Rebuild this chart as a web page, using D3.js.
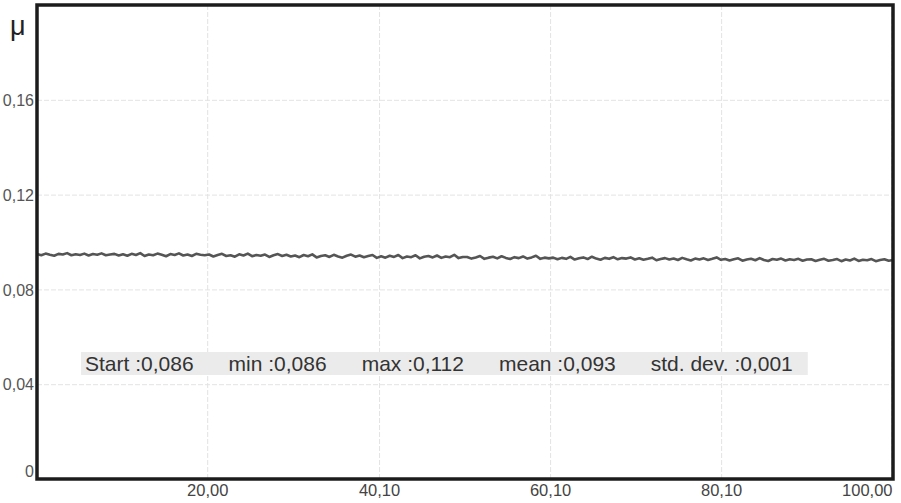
<!DOCTYPE html>
<html>
<head>
<meta charset="utf-8">
<script src="https://cdn.jsdelivr.net/npm/d3@7"></script>
<style>
  html, body { margin: 0; padding: 0; background: #fff; }
  svg { display: block; font-family: "Liberation Sans", "DejaVu Sans", sans-serif; }
</style>
</head>
<body>
<div class="chart-container"></div>
<script>
// friction coefficient, sampled evenly over the run
const muValues = [
  0.0949,0.0944,0.0951,0.0946,0.0942,0.0950,0.0947,0.0953,0.0944,0.0948,0.0945,0.0951,0.0943,0.0949,0.0946,0.0952,0.0944,0.0947,0.0950,0.0943,
  0.0948,0.0942,0.0950,0.0945,0.0953,0.0941,0.0947,0.0944,0.0951,0.0946,0.0940,0.0949,0.0945,0.0952,0.0943,0.0947,0.0941,0.0950,0.0946,0.0944,
  0.0947,0.0939,0.0945,0.0950,0.0941,0.0944,0.0938,0.0948,0.0943,0.0951,0.0940,0.0945,0.0942,0.0947,0.0937,0.0944,0.0949,0.0941,0.0946,0.0939,
  0.0943,0.0936,0.0945,0.0940,0.0948,0.0935,0.0941,0.0944,0.0937,0.0946,0.0939,0.0934,0.0942,0.0947,0.0938,0.0943,0.0936,0.0941,0.0945,0.0933,
  0.0940,0.0934,0.0942,0.0937,0.0945,0.0932,0.0939,0.0936,0.0944,0.0931,0.0938,0.0941,0.0935,0.0943,0.0933,0.0939,0.0936,0.0946,0.0932,0.0937,
  0.0937,0.0930,0.0935,0.0941,0.0929,0.0934,0.0938,0.0931,0.0940,0.0933,0.0928,0.0936,0.0932,0.0939,0.0930,0.0935,0.0942,0.0929,0.0934,0.0931,
  0.0934,0.0927,0.0933,0.0929,0.0937,0.0926,0.0931,0.0935,0.0928,0.0938,0.0930,0.0925,0.0933,0.0929,0.0936,0.0927,0.0932,0.0930,0.0935,0.0926,
  0.0931,0.0925,0.0929,0.0934,0.0923,0.0928,0.0932,0.0926,0.0930,0.0924,0.0933,0.0927,0.0922,0.0930,0.0926,0.0931,0.0924,0.0929,0.0935,0.0925,
  0.0928,0.0922,0.0927,0.0931,0.0921,0.0926,0.0929,0.0923,0.0932,0.0924,0.0920,0.0928,0.0925,0.0930,0.0922,0.0927,0.0924,0.0929,0.0921,0.0926,
  0.0927,0.0920,0.0925,0.0929,0.0921,0.0924,0.0928,0.0919,0.0926,0.0922,0.0930,0.0920,0.0925,0.0923,0.0928,0.0919,0.0924,0.0927,0.0921,0.0924
];
const timeStart = 0.1;
const timeEnd = 100.2;

const xTicks = [20.00, 40.10, 60.10, 80.10, 100.00];
const yTicks = [0, 0.04, 0.08, 0.12, 0.16];

const statLabels = ["Start", "min", "max", "mean", "std. dev."];
const statValues = [0.086, 0.086, 0.112, 0.093, 0.001];

const W = 901, H = 503;
const margin = {top: 5, right: 8, bottom: 24, left: 37};
const innerW = W - margin.left - margin.right;
const innerH = H - margin.top - margin.bottom;

// comma as decimal separator
const fmt = (d, n) => d3.format("." + n + "f")(d).replace(".", ",");

const step = (timeEnd - timeStart) / (muValues.length - 1);
const series = muValues.map((v, i) => ({t: timeStart + i * step, mu: v}));

const xScale = d3.scaleLinear().domain([timeStart, timeEnd]).range([0, innerW]);
const yScale = d3.scaleLinear().domain([0, 0.2]).range([innerH, 0]);

const svg = d3.select(".chart-container").append("svg")
  .attr("width", W).attr("height", H);

const g = svg.append("g").attr("transform", "translate(" + margin.left + "," + margin.top + ")");

// grid lines
g.append("g")
  .attr("class", "grid")
  .call(d3.axisLeft(yScale).tickValues(yTicks.filter(d => d > 0)).tickSize(-innerW).tickFormat(""))
  .call(s => s.select(".domain").remove())
  .selectAll("line").attr("stroke", "#e3e3e3").attr("stroke-dasharray", "5,2");

g.append("g")
  .attr("class", "grid")
  .attr("transform", "translate(0," + innerH + ")")
  .call(d3.axisBottom(xScale).tickValues(xTicks).tickSize(-innerH).tickFormat(""))
  .call(s => s.select(".domain").remove())
  .selectAll("line").attr("stroke", "#e3e3e3").attr("stroke-dasharray", "5,2");

// y labels
const yAxis = g.append("g")
  .call(d3.axisLeft(yScale).tickValues(yTicks).tickSize(0).tickPadding(3)
    .tickFormat(d => d === 0 ? "0" : fmt(d, 2)));
yAxis.select(".domain").remove();
yAxis.selectAll("text")
  .attr("fill", "#555").attr("font-size", 16)
  .attr("dy", d => d === 0 ? "-0.18em" : "0.35em");

// x labels
const xAxis = g.append("g")
  .attr("transform", "translate(0," + innerH + ")")
  .call(d3.axisBottom(xScale).tickValues(xTicks).tickSize(0).tickPadding(5)
    .tickFormat(d => fmt(d, 2)));
xAxis.select(".domain").remove();
xAxis.selectAll("text")
  .attr("fill", "#444").attr("font-size", 16.5)
  .attr("text-anchor", (d, i) => i === xTicks.length - 1 ? "end" : "middle")
  .attr("x", (d, i) => i === xTicks.length - 1 ? xScale(timeEnd) - xScale(d) - 1 : 0);

// the mu trace
const line = d3.line()
  .x(d => xScale(d.t))
  .y(d => yScale(d.mu));

g.append("path")
  .datum(series)
  .attr("fill", "none")
  .attr("stroke", "#555")
  .attr("stroke-width", 2.6)
  .attr("stroke-linejoin", "round")
  .attr("d", line);

// stats box
const statsG = g.append("g").attr("transform", "translate(48," + 347 + ")");
const statsBg = statsG.append("rect").attr("fill", "#ebebeb");
let cursor = 0;
statLabels.forEach((lab, i) => {
  const t = statsG.append("text")
    .attr("x", cursor).attr("y", 19)
    .attr("fill", "#333").attr("font-size", 21)
    .text(lab + " :" + fmt(statValues[i], 3));
  cursor += t.node().getComputedTextLength() + 35;
});
statsBg.attr("x", -4).attr("y", 0)
  .attr("width", cursor - 35 + 19).attr("height", 23);

// frame
g.append("rect")
  .attr("width", innerW).attr("height", innerH)
  .attr("fill", "none").attr("stroke", "#1c1c1c").attr("stroke-width", 3.5);

// axis symbol
svg.append("text")
  .attr("x", 10).attr("y", 35)
  .attr("fill", "#222").attr("font-size", 27)
  .text("μ");
</script>
</body>
</html>
